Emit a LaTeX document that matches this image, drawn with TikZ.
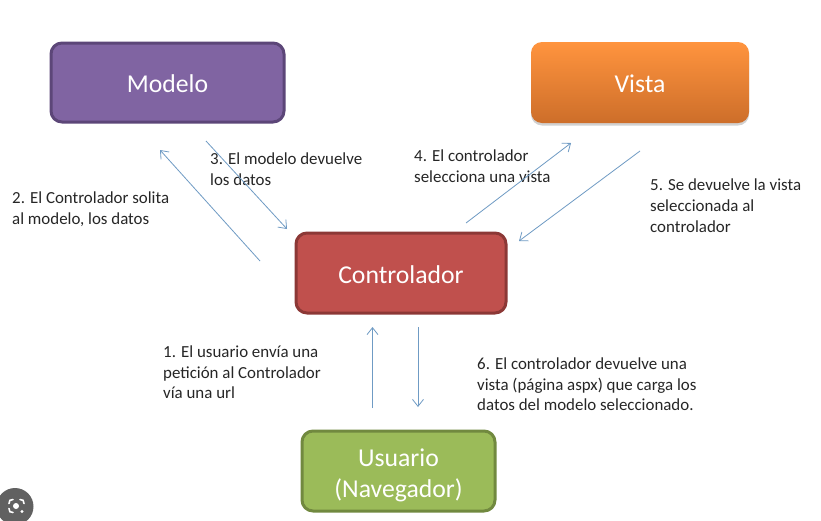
\documentclass[tikz,border=0pt]{standalone}
\usepackage{fontspec}
\setmainfont{Carlito}
\usetikzlibrary{arrows.meta}
\definecolor{arrowblue}{HTML}{6F9BC4}
\definecolor{modelofill}{RGB}{128,100,162}
\definecolor{modeloline}{RGB}{92,70,120}
\definecolor{vistatop}{RGB}{255,148,62}
\definecolor{vistabottom}{RGB}{205,110,42}
\definecolor{ctrlfill}{RGB}{192,80,77}
\definecolor{ctrlline}{RGB}{140,56,54}
\definecolor{userfill}{RGB}{155,187,89}
\definecolor{userline}{RGB}{113,137,63}
\newcommand{\lowerone}{\rule{0pt}{21pt}}
\tikzset{
  x=1pt,y=-1pt,
  box/.style={rounded corners=11pt,line width=3pt,minimum height=79pt,text=white,font=\fontsize{25.7}{30.5}\selectfont,align=center,inner sep=0pt},
  note/.style={anchor=north west,align=left,inner sep=0pt,text=black!85,font=\fontsize{16.9}{20.6}\selectfont},
  link/.style={draw=arrowblue,line width=0.8pt,-{Straight Barb[length=7pt,width=11pt,line width=0.8pt]}},
  badgeline/.style={white,line width=1.6pt,line cap=round},
}
\begin{document}
\begin{tikzpicture}
\useasboundingbox (0,0) rectangle (821,520);
\fill[white] (0,0) rectangle (821,520);
\node[box,draw=none,minimum width=218pt,minimum height=81pt,fill=black!40,opacity=.45] (vistashadow) at (640,85) {};
\node[box,minimum width=233pt,fill=modelofill,draw=modeloline] (modelo) at (167.5,82.5) {\lowerone Modelo};
\node[box,draw=none,minimum width=218pt,minimum height=81pt,top color=vistatop,bottom color=vistabottom] (vista) at (640,82.5) {\lowerone Vista};
\node[box,minimum width=210pt,minimum height=80pt,fill=ctrlfill,draw=ctrlline] (controlador) at (401,273) {\lowerone Controlador};
\node[box,minimum width=193pt,minimum height=80pt,fill=userfill,draw=userline] (usuario) at (398.5,471) {\rule{0pt}{26pt}Usuario\\(Navegador)};
\node[note] (n2) at (12,192) {2. El Controlador solita\\al modelo, los datos};
\node[note] (n3) at (210,153) {3. El modelo devuelve\\los datos};
\node[note] (n4) at (414,150) {4. El controlador\\selecciona una vista};
\node[note] (n5) at (650,179) {5. Se devuelve la vista\\seleccionada al\\controlador};
\node[note] (n1) at (163,345.5) {1. El usuario envía una\\petición al Controlador\\vía una url};
\node[note] (n6) at (477,357.5) {6. El controlador devuelve una\\vista (página aspx) que carga los\\datos del modelo seleccionado.};
\coordinate (a2s) at (260,261); \coordinate (a2e) at (160,150);
\coordinate (a3s) at (206,141); \coordinate (a3e) at (287,229);
\coordinate (a4s) at (466,223); \coordinate (a4e) at (571,143);
\coordinate (a5s) at (640,151); \coordinate (a5e) at (519,241);
\coordinate (a1s) at (372.5,408); \coordinate (a1e) at (372.5,327);
\coordinate (a6s) at (418,327); \coordinate (a6e) at (418,407);
\draw[link] (a2s) -- (a2e);
\draw[link] (a3s) -- (a3e);
\draw[link] (a4s) -- (a4e);
\draw[link] (a5s) -- (a5e);
\draw[link] (a1s) -- (a1e);
\draw[link] (a6s) -- (a6e);
% lens badge
\fill[black!62] (15,506.5) circle (18.5);
\draw[badgeline] (9,503.5) .. controls (9,500.5) and (10,499.5) .. (13,499.5);
\draw[badgeline] (20,499.5) .. controls (23,499.5) and (24,500.5) .. (24,503.5);
\draw[badgeline] (9,508.5) .. controls (9,511.5) and (10,512.5) .. (13,512.5);
\fill[white] (16,506) circle (3);
\fill[white] (22,511.5) circle (1.7);
\end{tikzpicture}
\end{document}
